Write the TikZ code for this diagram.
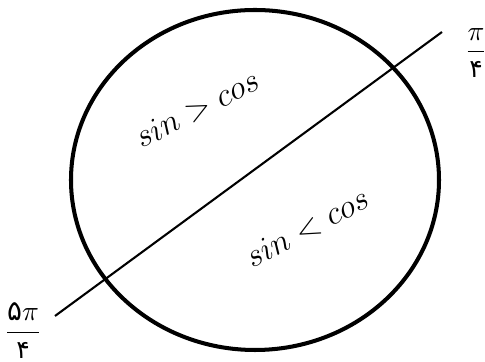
\documentclass[tikz,border=0pt]{standalone}
\usepackage{fontspec}
\newfontfamily\arabicfont[Script=Arabic]{DejaVu Sans}
\newcommand{\pdig}[1]{\mbox{\small\arabicfont #1}}
\begin{document}
\begin{tikzpicture}[x=0.36pt,y=-0.36pt,
  ring/.style={line width=1.45pt},
  cut/.style={line width=0.75pt},
  lbl/.style={inner sep=0pt},
  rel/.style={inner sep=0pt, font=\fontsize{11.5}{14}\selectfont}]
\useasboundingbox (0,0) rectangle (485,362);
\draw[ring] (255,180) ellipse [x radius=184, y radius=170];
\coordinate (a) at (55,316);
\coordinate (b) at (442,32);
\draw[cut] (a) -- (b);
\node[rel, rotate=27] (t1) at (197,109) {$sin > cos$};
\node[rel, rotate=28] (t2) at (307,228) {$sin < cos$};
\node[lbl] (f1) at (476,53) {$\displaystyle\frac{\pi}{\pdig{۴}}$};
\node[lbl] (f2) at (23,331) {$\displaystyle\frac{\mbox{\arabicfont ۵}\pi}{\pdig{۴}}$};
\end{tikzpicture}
\end{document}
